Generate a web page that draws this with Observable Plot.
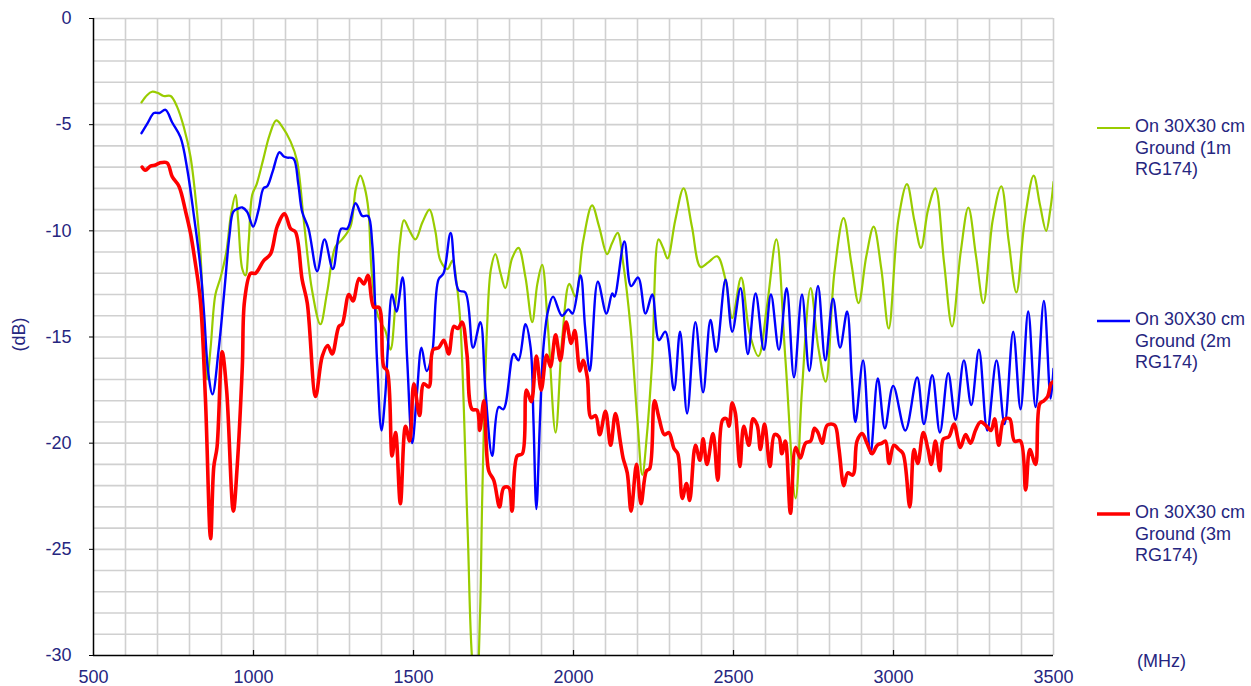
<!DOCTYPE html>
<html>
<head>
<meta charset="utf-8">
<script src="https://cdn.jsdelivr.net/npm/d3@7"></script>
<script src="https://cdn.jsdelivr.net/npm/@observablehq/plot@0.6"></script>
<style>
  html, body { margin: 0; padding: 0; background: #fff; }
  #wrap { position: relative; width: 1251px; height: 686px; font-family: "Liberation Sans", Arial, sans-serif; color: #262680; }
  .leg { position: absolute; left: 1097px; font-size: 18px; line-height: 21.5px; display: flex; align-items: flex-start; }
  .leg svg { margin-top: 9px; margin-right: 5px; }
  .lab { position: absolute; font-size: 18px; white-space: nowrap; }
</style>
</head>
<body>
<div id="wrap"></div>
<script>
const xTicks = [500, 1000, 1500, 2000, 2500, 3000, 3500];
const yTicks = [0, -5, -10, -15, -20, -25, -30];
const seriesNames = ["On 30X30 cm Ground (1m RG174)", "On 30X30 cm Ground (2m RG174)", "On 30X30 cm Ground (3m RG174)"];
const seriesColors = ["#99cc00", "#0000ff", "#ff0000"];

const green1m = [[650,-3.95],[668,-3.6],[683,-3.45],[700,-3.5],[719,-3.65],[741,-3.65],[761,-4.15],[782,-5.1],[803,-6.5],[824,-9.2],[834,-11],[845,-14.5],[855,-17],[866,-15.5],[881,-13],[897,-12.2],[915,-11],[930,-9.2],[944,-8.3],[952,-9.5],[965,-11.8],[975,-12.1],[985,-10.5],[996,-8.3],[1010,-7.8],[1031,-6.6],[1050,-5.5],[1071,-4.8],[1090,-5.1],[1116,-5.8],[1136,-6.7],[1157,-9.5],[1183,-12.8],[1209,-14.4],[1230,-12.9],[1256,-10.75],[1277,-10.4],[1303,-9.8],[1320,-8.0],[1334,-7.4],[1348,-8.0],[1359,-9.0],[1369,-11.9],[1385,-13.8],[1397,-14.3],[1412,-14.7],[1428,-15.6],[1444,-13.3],[1458,-10.5],[1470,-9.5],[1488,-10.0],[1506,-10.4],[1528,-9.6],[1550,-9.0],[1568,-10],[1584,-11.4],[1606,-11.8],[1622,-11.4],[1635,-12.5],[1647,-14.5],[1669,-24],[1685,-30.5],[1697,-31.5],[1708,-28],[1715,-22.4],[1730,-14.5],[1742,-11.8],[1756,-11.1],[1772,-12.0],[1787,-12.7],[1808,-11.3],[1828,-10.8],[1850,-12.2],[1871,-14.3],[1887,-12.5],[1902,-11.6],[1920,-14.5],[1944,-19.5],[1965,-15],[1987,-12.5],[2006,-13.1],[2030,-10.5],[2058,-8.8],[2080,-9.8],[2105,-11.1],[2120,-10.6],[2138,-10.1],[2155,-11.5],[2178,-14.5],[2200,-19],[2215,-21.5],[2230,-19.5],[2246,-16.1],[2266,-10.4],[2280,-10.8],[2294,-11.3],[2318,-9.5],[2344,-8.0],[2370,-9.8],[2397,-11.7],[2420,-11.5],[2449,-11.2],[2475,-12.3],[2496,-14.1],[2524,-12.2],[2550,-14.8],[2578,-15.9],[2605,-13.5],[2634,-10.4],[2662,-16],[2694,-22.6],[2714,-17.5],[2741,-12.7],[2765,-15.5],[2788,-17.1],[2815,-12],[2844,-9.4],[2868,-11.5],[2891,-13.4],[2915,-11.2],[2938,-9.8],[2962,-11.8],[2985,-14.6],[3015,-9.5],[3042,-7.8],[3065,-9.5],[3086,-10.8],[3108,-9],[3131,-8.0],[3158,-11.5],[3183,-14.5],[3210,-11],[3234,-8.9],[3258,-11.2],[3281,-13.4],[3310,-9.5],[3337,-7.9],[3360,-10.5],[3384,-12.9],[3410,-9.5],[3438,-7.4],[3458,-8.8],[3477,-10.0],[3490,-9.0],[3500,-7.7]];

const blue2m = [[650,-5.4],[670,-4.9],[689,-4.45],[706,-4.45],[725,-4.3],[746,-4.9],[772,-5.6],[793,-7.1],[813,-9.2],[834,-11.7],[846,-14],[858,-16.6],[872,-17.7],[891,-15.6],[906,-13.3],[912,-12.3],[925,-10.2],[937,-9.1],[952,-8.95],[965,-8.9],[980,-9.1],[999,-9.8],[1016,-9.0],[1031,-8.0],[1043,-7.9],[1060,-7.2],[1081,-6.3],[1095,-6.5],[1105,-6.55],[1125,-6.6],[1140,-7.8],[1152,-9.1],[1172,-9.9],[1199,-11.9],[1222,-10.4],[1248,-11.8],[1274,-9.9],[1293,-9.9],[1319,-8.7],[1340,-9.3],[1358,-9.3],[1371,-10.6],[1386,-16.1],[1400,-19.4],[1412,-17.7],[1420,-15.5],[1433,-13.0],[1447,-13.8],[1466,-12.2],[1480,-16],[1496,-20.0],[1511,-17.6],[1525,-15.5],[1541,-16.6],[1558,-15.8],[1578,-12.3],[1594,-12.0],[1616,-10.1],[1641,-12.8],[1662,-12.9],[1686,-15.5],[1709,-14.3],[1725,-17.6],[1746,-20.6],[1766,-18.3],[1781,-18.4],[1813,-15.8],[1828,-16.1],[1850,-14.4],[1866,-15.5],[1875,-19],[1884,-23.1],[1895,-19],[1906,-15.5],[1920,-13.8],[1936,-13.1],[1964,-14.0],[1984,-13.7],[1997,-13.9],[2022,-12.1],[2036,-14.5],[2051,-16.6],[2076,-12.4],[2103,-13.9],[2121,-12.95],[2128,-13.1],[2159,-10.5],[2180,-12.6],[2202,-12.2],[2225,-13.9],[2246,-13.0],[2267,-15.15],[2287,-14.75],[2314,-17.5],[2333,-14.75],[2355,-18.6],[2381,-14.3],[2405,-17.6],[2428,-14.2],[2446,-15.7],[2475,-12.3],[2496,-14.75],[2522,-12.7],[2545,-15.8],[2569,-12.95],[2595,-15.6],[2617,-13.0],[2642,-15.6],[2666,-12.7],[2689,-16.9],[2714,-13.0],[2737,-16.6],[2764,-12.6],[2787,-16.1],[2811,-13.2],[2833,-15.5],[2855,-13.8],[2870,-17],[2881,-19.0],[2905,-16.1],[2928,-20.5],[2951,-16.95],[2973,-19.3],[2999,-17.3],[3037,-19.4],[3074,-16.9],[3095,-19.1],[3121,-16.8],[3145,-19.5],[3171,-16.7],[3194,-18.9],[3220,-16.1],[3243,-18.2],[3267,-15.6],[3293,-19.4],[3322,-16.1],[3347,-19.1],[3374,-14.75],[3397,-18.4],[3421,-13.8],[3444,-18.3],[3470,-13.3],[3491,-17.9],[3500,-16.5]];

const red3m = [[652,-7.0],[662,-7.15],[678,-6.95],[694,-6.9],[707,-6.8],[730,-6.8],[746,-7.45],[767,-7.9],[788,-9.1],[803,-10.1],[817,-11.4],[834,-13.3],[850,-18.0],[866,-24.5],[876,-21.1],[886,-20.2],[902,-15.7],[916,-17.5],[937,-23.2],[949,-21.1],[965,-16.4],[972,-13.3],[991,-12.0],[1006,-12.0],[1032,-11.4],[1053,-11.1],[1074,-9.8],[1097,-9.2],[1116,-9.9],[1131,-10.05],[1152,-12.3],[1168,-13.4],[1194,-17.8],[1215,-15.9],[1232,-15.4],[1246,-15.8],[1267,-14.5],[1277,-14.4],[1298,-13.0],[1311,-13.3],[1330,-12.25],[1345,-12.5],[1358,-12.1],[1376,-13.6],[1392,-13.6],[1407,-16.4],[1418,-16.6],[1433,-20.6],[1444,-19.5],[1459,-22.85],[1475,-19.2],[1488,-19.9],[1501,-17.2],[1519,-18.7],[1532,-17.2],[1548,-17.35],[1561,-15.6],[1579,-15.5],[1595,-15.15],[1610,-15.8],[1626,-14.5],[1639,-14.6],[1652,-14.3],[1667,-15.8],[1683,-18.4],[1699,-18.45],[1707,-19.4],[1720,-18.0],[1735,-21.3],[1751,-21.75],[1769,-23.0],[1782,-22.1],[1798,-22.1],[1808,-23.2],[1824,-20.6],[1840,-20.5],[1853,-17.5],[1868,-18.05],[1884,-15.9],[1899,-17.5],[1916,-15.85],[1928,-16.4],[1944,-14.9],[1959,-16.1],[1977,-14.3],[1993,-15.3],[2004,-14.7],[2020,-16.6],[2030,-16.1],[2043,-16.9],[2055,-18.8],[2069,-18.7],[2082,-19.6],[2100,-18.5],[2116,-20.1],[2131,-18.6],[2147,-20.0],[2155,-20.7],[2168,-21.4],[2180,-23.2],[2197,-21.0],[2211,-22.85],[2228,-21.3],[2238,-21.2],[2253,-18.0],[2267,-18.8],[2284,-19.6],[2298,-19.5],[2314,-20.25],[2326,-20.5],[2340,-22.6],[2353,-21.9],[2363,-22.7],[2381,-20.1],[2395,-20.8],[2405,-19.8],[2417,-21.0],[2436,-19.55],[2451,-21.75],[2466,-18.9],[2478,-18.85],[2486,-19.2],[2496,-18.1],[2506,-18.6],[2520,-21.1],[2532,-19.2],[2548,-20.1],[2561,-18.85],[2574,-19.15],[2584,-20.3],[2597,-19.1],[2614,-21.1],[2628,-19.6],[2642,-19.7],[2651,-20.5],[2662,-19.9],[2678,-23.3],[2694,-20.2],[2709,-20.7],[2725,-20.0],[2741,-19.9],[2753,-19.3],[2764,-19.5],[2777,-20.0],[2793,-19.15],[2816,-19.15],[2829,-20.2],[2845,-22.0],[2857,-21.4],[2873,-21.5],[2886,-19.9],[2902,-19.55],[2917,-20.0],[2933,-20.5],[2949,-20.1],[2964,-20.0],[2975,-19.9],[2986,-20.95],[3001,-20.1],[3017,-20.3],[3030,-20.5],[3051,-23.0],[3064,-20.3],[3076,-20.95],[3093,-19.5],[3108,-20.3],[3118,-21.0],[3131,-19.9],[3145,-21.3],[3156,-19.8],[3173,-19.7],[3189,-19.1],[3209,-20.2],[3225,-19.6],[3241,-20.0],[3256,-19.4],[3272,-19.0],[3291,-19.2],[3305,-19.4],[3316,-18.85],[3329,-20.1],[3345,-18.9],[3363,-18.85],[3378,-19.9],[3397,-19.9],[3413,-22.2],[3426,-20.3],[3444,-21.0],[3457,-18.15],[3470,-18.0],[3482,-17.8],[3492,-17.2],[3500,-17.1]];

const gridX = d3.range(600, 3501, 100);
const gridY = d3.range(-29, 0.5, 1);
const widths = [2.2, 2.4, 3.6];
const allSeries = [green1m, blue2m, red3m];

const chart = Plot.plot({
  width: 1251,
  height: 686,
  marginLeft: 93,
  marginRight: 198,
  marginTop: 18,
  marginBottom: 31,
  style: { color: "#262680", fontFamily: "'Liberation Sans', Arial, sans-serif", fontSize: "18px", background: "#fff" },
  x: { domain: [500, 3500] },
  y: { domain: [-30, 0] },
  marks: [
    Plot.ruleX(gridX, { stroke: "#d0d0d0", strokeWidth: 1.6 }),
    Plot.ruleY(gridY, { stroke: "#d0d0d0", strokeWidth: 1.6 }),
    ...allSeries.map((s, i) => Plot.line(s, {
      x: d => d[0], y: d => d[1], stroke: seriesColors[i], strokeWidth: widths[i],
      curve: "catmull-rom", clip: true, strokeLinejoin: "round", strokeLinecap: "round"
    })),
    Plot.ruleX([500], { stroke: "#000", strokeWidth: 1.5 }),
    Plot.ruleY([-30], { stroke: "#000", strokeWidth: 1.5 }),
    Plot.tickX(xTicks.slice(1, -1), { x: d => d, insetTop: 632, stroke: "#000", strokeWidth: 1.2 }),
    Plot.axisX(xTicks, { tickSize: 0, tickPadding: 15, fontSize: 18, tickFormat: d => String(d), label: null }),
    Plot.axisY(yTicks, { tickSize: 4, tickPadding: 18, fontSize: 18, stroke: "#000", tickFormat: d => String(d), label: null })
  ]
});

const wrap = document.getElementById("wrap");
wrap.appendChild(chart);

const legendTops = [116, 309, 502];
seriesNames.forEach((name, i) => {
  const div = document.createElement("div");
  div.className = "leg";
  div.style.top = legendTops[i] + "px";
  const parts = name.split(" Ground ");
  div.innerHTML = `<svg width="33" height="6"><line x1="0" x2="33" y1="3" y2="3" stroke="${seriesColors[i]}" stroke-width="${widths[i]}"/></svg><div>${parts[0]}<br>Ground ${parts[1].replace(" RG174", "<br>RG174")}</div>`;
  wrap.appendChild(div);
});

const yl = document.createElement("div");
yl.className = "lab";
yl.textContent = "(dB)";
yl.style.left = "2px";
yl.style.top = "324px";
yl.style.transform = "rotate(-90deg)";
wrap.appendChild(yl);

const xl = document.createElement("div");
xl.className = "lab";
xl.textContent = "(MHz)";
xl.style.left = "1137px";
xl.style.top = "651px";
wrap.appendChild(xl);
</script>
</body>
</html>
